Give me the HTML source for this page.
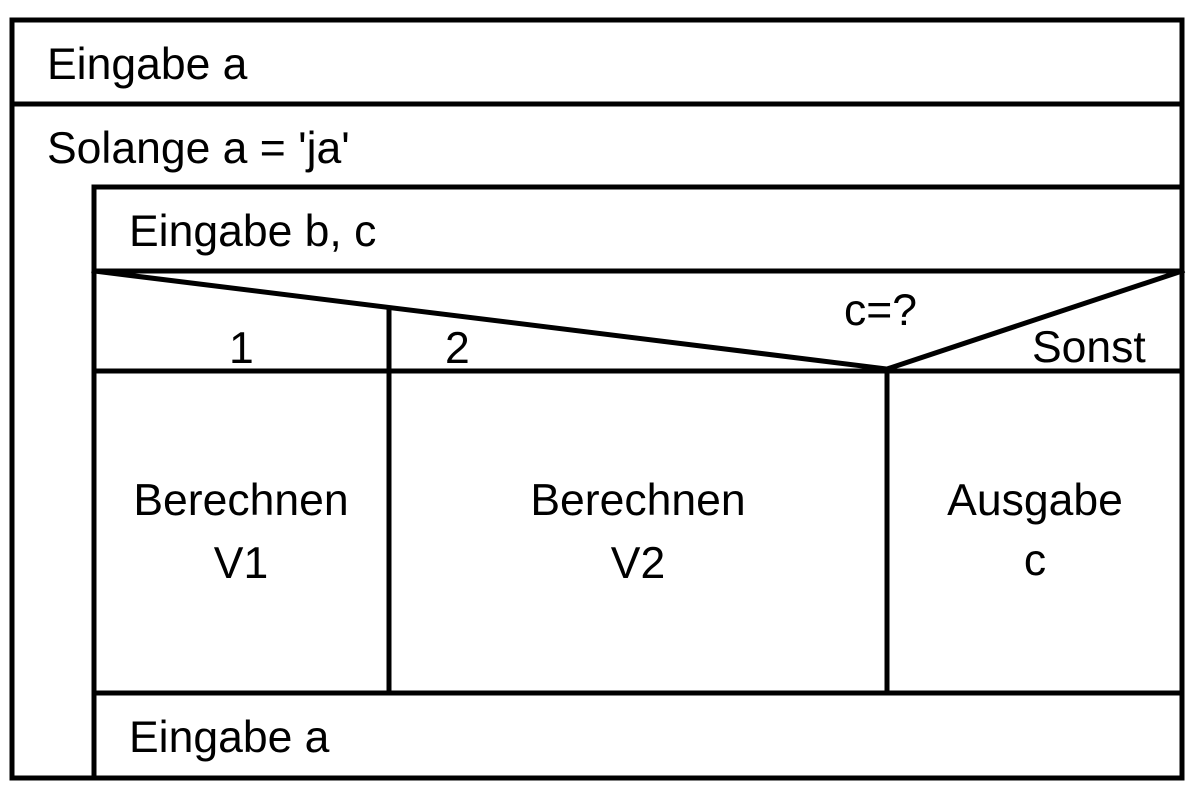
<!DOCTYPE html>
<html><head><style>html,body{margin:0;padding:0;background:#fff}</style></head>
<body>
<svg width="1192" height="795" viewBox="0 0 1192 795" xmlns="http://www.w3.org/2000/svg" style="display:block">
<g stroke="#000" stroke-width="5" fill="none" stroke-linecap="square">
<rect x="12" y="20" width="1170" height="758"/>
<line x1="12" y1="104" x2="1182" y2="104"/>
<line x1="94" y1="187" x2="1182" y2="187"/>
<line x1="94" y1="187" x2="94" y2="778"/>
<line x1="94" y1="271" x2="1182" y2="271"/>
<line x1="94" y1="371" x2="1182" y2="371"/>
<line x1="94" y1="693" x2="1182" y2="693"/>
<line x1="389" y1="310" x2="389" y2="693"/>
<line x1="887" y1="371" x2="887" y2="693"/>
<line x1="94" y1="271" x2="887" y2="369"/>
<line x1="887" y1="369" x2="1182" y2="271"/>
</g>
<g font-family="Liberation Sans, Arial, sans-serif" font-size="44.5" fill="#000">
<text x="47" y="79">Eingabe a</text>
<text x="47" y="163">Solange a = 'ja'</text>
<text x="129" y="246">Eingabe b, c</text>
<text x="229" y="363">1</text>
<text x="445" y="363">2</text>
<text x="844" y="325">c=?</text>
<text x="1032" y="362">Sonst</text>
<text x="241" y="515" text-anchor="middle">Berechnen</text>
<text x="241" y="578" text-anchor="middle">V1</text>
<text x="638" y="515" text-anchor="middle">Berechnen</text>
<text x="638" y="578" text-anchor="middle">V2</text>
<text x="1035" y="515" text-anchor="middle">Ausgabe</text>
<text x="1035" y="575" text-anchor="middle">c</text>
<text x="129" y="752">Eingabe a</text>
</g>
</svg>
</body></html>
